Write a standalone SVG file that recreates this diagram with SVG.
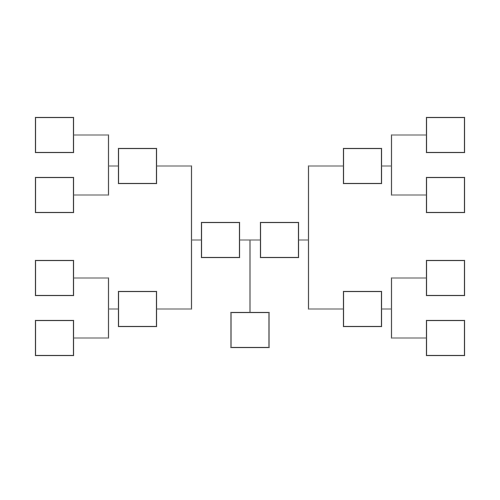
<svg xmlns="http://www.w3.org/2000/svg" width="500" height="500" viewBox="0 0 500 500">
<style>
.n{fill:#fff;stroke:#444;stroke-width:1.2}
.c{fill:none;stroke:#555;stroke-width:1.2}
</style>
<rect width="500" height="500" fill="#fff"/>
<g id="connectors">
<path class="c" d="M73.5,135H108.5V195H73.5M108.5,166H118.5"/>
<path class="c" d="M73.5,278H108.5V338H73.5M108.5,309H118.5"/>
<path class="c" d="M156.5,166H191.5V309H156.5M191.5,240H201.5"/>
<path class="c" d="M426.5,135H391.5V195H426.5M391.5,166H381.5"/>
<path class="c" d="M426.5,278H391.5V338H426.5M391.5,309H381.5"/>
<path class="c" d="M343.5,166H308.5V309H343.5M308.5,240H298.5"/>
<path class="c" d="M239.5,240H260.5M250,240V312.5"/>
</g>
<g id="l1"><rect class="n" x="35.5" y="117.5" width="38" height="35"/></g>
<g id="l2"><rect class="n" x="35.5" y="177.5" width="38" height="35"/></g>
<g id="l3"><rect class="n" x="35.5" y="260.5" width="38" height="35"/></g>
<g id="l4"><rect class="n" x="35.5" y="320.5" width="38" height="35"/></g>
<g id="r1"><rect class="n" x="426.5" y="117.5" width="38" height="35"/></g>
<g id="r2"><rect class="n" x="426.5" y="177.5" width="38" height="35"/></g>
<g id="r3"><rect class="n" x="426.5" y="260.5" width="38" height="35"/></g>
<g id="r4"><rect class="n" x="426.5" y="320.5" width="38" height="35"/></g>
<g id="lq1"><rect class="n" x="118.5" y="148.5" width="38" height="35"/></g>
<g id="lq2"><rect class="n" x="118.5" y="291.5" width="38" height="35"/></g>
<g id="rq1"><rect class="n" x="343.5" y="148.5" width="38" height="35"/></g>
<g id="rq2"><rect class="n" x="343.5" y="291.5" width="38" height="35"/></g>
<g id="lf"><rect class="n" x="201.5" y="222.5" width="38" height="35"/></g>
<g id="rf"><rect class="n" x="260.5" y="222.5" width="38" height="35"/></g>
<g id="winner"><rect class="n" x="231" y="312.5" width="38" height="35"/></g>
</svg>
